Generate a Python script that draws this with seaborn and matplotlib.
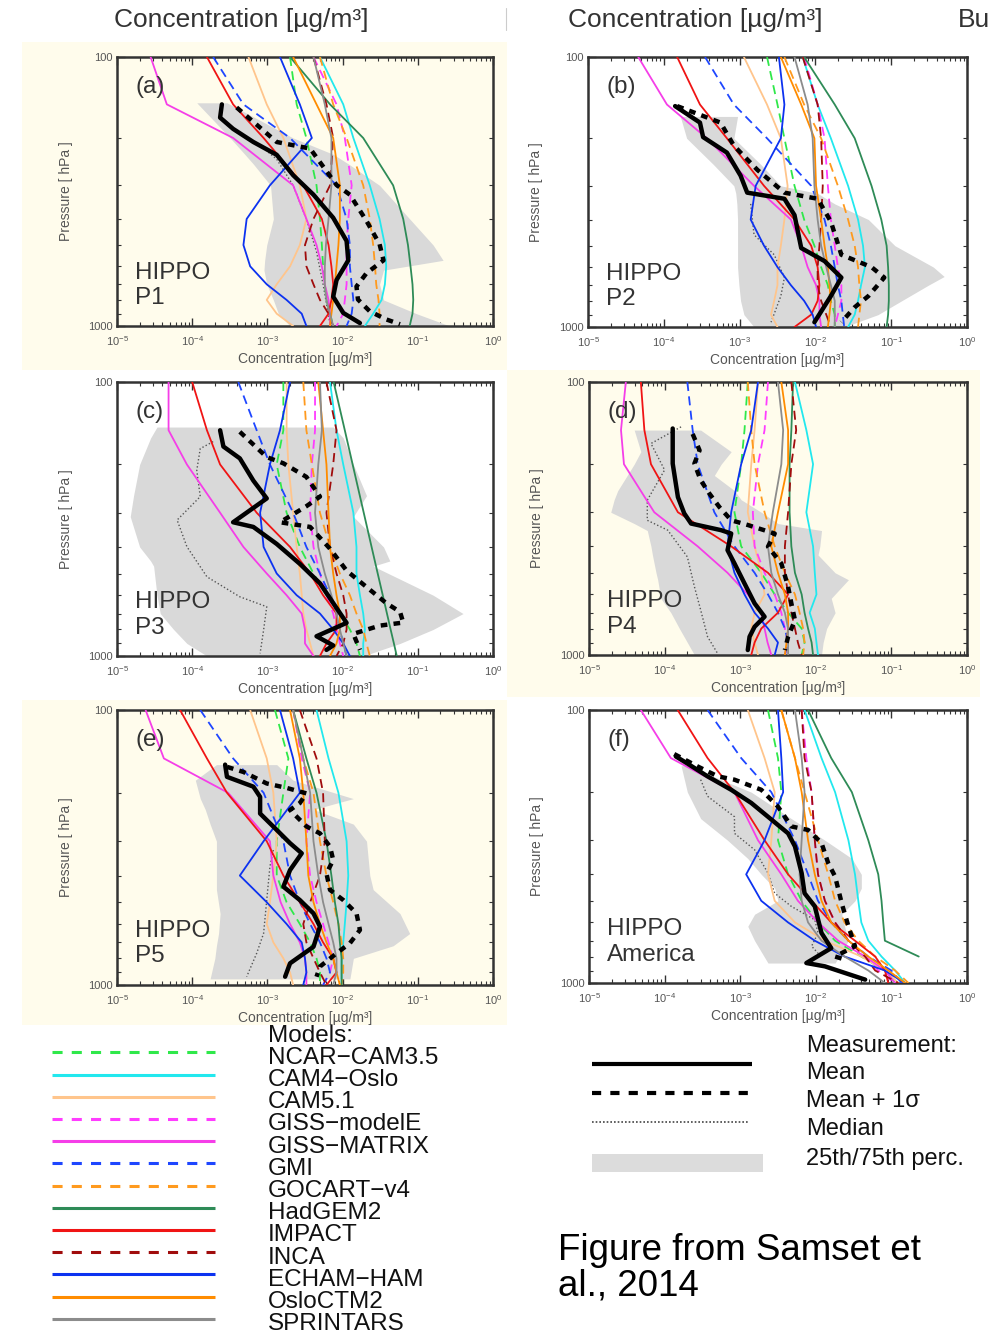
import numpy as np
import matplotlib
matplotlib.use("Agg")
import matplotlib.pyplot as plt
from matplotlib.patches import Rectangle
from matplotlib.ticker import FixedLocator, FixedFormatter, NullFormatter, LogLocator
import seaborn as sns

# ------------------------------------------------------------------ data
P = [100, 150, 200, 300, 400, 500, 600, 700, 800, 900, 1000]   # model pressure levels [hPa]

MODEL_KEYS = ['ncar', 'cam4', 'cam5', 'gisse', 'gissm', 'gmi', 'gocart',
              'hadgem', 'impact', 'inca', 'echam', 'oslo', 'sprint']
MODEL_NAMES = ['NCAR\u2212CAM3.5', 'CAM4\u2212Oslo', 'CAM5.1', 'GISS\u2212modelE',
               'GISS\u2212MATRIX', 'GMI', 'GOCART\u2212v4', 'HadGEM2', 'IMPACT',
               'INCA', 'ECHAM\u2212HAM', 'OsloCTM2', 'SPRINTARS']
MODEL_COLORS = ['#2fe84a', '#22e8ee', '#ffc58c', '#ff3cff', '#f53ee8', '#1e46ff',
                '#ff9a1e', '#2e8b57', '#f01414', '#a00c0c', '#0c32f0', '#ff8c00', '#8c8c8c']
MODEL_DASHED = [True, False, False, True, False, True, True, False, False, True,
                False, False, False]

PANELS = ['a', 'b', 'c', 'd', 'e', 'f']
PANEL_TAGS = ['(a)', '(b)', '(c)', '(d)', '(e)', '(f)']
PANEL_NAMES = ['P1', 'P2', 'P3', 'P4', 'P5', 'America']

# ---- panel (a)
a_ncar = [2.0e-3, 2.45e-3, 3.3e-3, 4.5e-3, 5.0e-3, 5.3e-3, 5.5e-3, 5.8e-3, 6.1e-3, 6.8e-3, 7.5e-3]
a_cam4 = [5.0e-3, 1.02e-2, 1.39e-2, 2.3e-2, 3.1e-2, 3.65e-2, 3.8e-2, 3.65e-2, 3.3e-2, 2.55e-2, 1.98e-2]
a_cam5 = [5.6e-4, 9.8e-4, 1.63e-3, 2.7e-3, 3.3e-3, 2.7e-3, 2.0e-3, 1.33e-3, 9.8e-4, 1.33e-3, 2.2e-3]
a_gisse = [4.1e-3, 8.3e-3, 1.07e-2, 1.32e-2, 1.19e-2, 1.13e-2, 1.13e-2, 1.13e-2, 1.07e-2, 1.02e-2, 8.3e-3]
a_gissm = [2.8e-5, 4.6e-5, 3.5e-4, 2.2e-3, 3.3e-3, 4.5e-3, 5.3e-3, 5.8e-3, 6.5e-3, 6.8e-3, 6.8e-3]
a_gmi = [1.9e-4, 4.8e-4, 2.0e-3, 8.3e-3, 1.13e-2, 1.25e-2, 1.25e-2, 1.32e-2, 1.39e-2, 1.32e-2, 1.13e-2]
a_gocart = [5.0e-3, 7.5e-3, 1.13e-2, 1.88e-2, 2.3e-2, 2.55e-2, 2.7e-2, 2.8e-2, 3.0e-2, 3.1e-2, 3.1e-2]
a_hadgem = [2.0e-3, 6.8e-3, 1.88e-2, 4.7e-2, 6.4e-2, 7.4e-2, 8.0e-2, 8.5e-2, 8.7e-2, 8.5e-2, 7.8e-2]
a_impact = [1.57e-4, 3.5e-4, 8.9e-4, 3.0e-3, 5.3e-3, 6.5e-3, 7.1e-3, 7.5e-3, 7.1e-3, 6.5e-3, 5.0e-3]
a_inca = [4.1e-3, 6.1e-3, 7.5e-3, 6.8e-3, 4.1e-3, 3.16e-3, 3.3e-3, 4.1e-3, 5.0e-3, 6.5e-3, 7.5e-3]
a_echam = [1.47e-3, 2.7e-3, 3.9e-3, 1.08e-3, 5.3e-4, 4.8e-4, 5.9e-4, 9.8e-4, 1.8e-3, 2.86e-3, 3.3e-3]
a_oslo = [2.2e-3, 4.5e-3, 7.5e-3, 9.2e-3, 9.2e-3, 8.8e-3, 8.3e-3, 7.9e-3, 7.5e-3, 7.1e-3, 6.8e-3]
a_sprint = [4.1e-3, 5.8e-3, 7.1e-3, 7.1e-3, 6.5e-3, 6.0e-3, 5.8e-3, 5.8e-3, 6.1e-3, 6.8e-3, 7.5e-3]
a_mean_p = [150, 168, 185, 207, 231, 275, 325, 396, 483, 570, 675, 778, 894, 975]
a_mean = [2.48e-4, 2.35e-4, 3.5e-4, 6.5e-4, 1.33e-3, 2.2e-3, 4.1e-3, 7.5e-3, 1.13e-2, 1.19e-2, 8.3e-3, 7.5e-3, 1.02e-2, 1.7e-2]
a_sd_p = [154, 207, 219, 246, 299, 325, 407, 496, 570, 636, 713, 797, 882, 945, 985]
a_sd = [3.9e-4, 1.33e-3, 3.7e-3, 5.0e-3, 8.3e-3, 1.25e-2, 2.08e-2, 3.1e-2, 3.5e-2, 2.08e-2, 1.53e-2, 1.6e-2, 2.3e-2, 3.8e-2, 5.8e-2]
a_med_p = [213, 240, 300, 400, 530, 700, 980]
a_med = [8.0e-4, 1.33e-3, 2.2e-3, 3.3e-3, 4.5e-3, 5.5e-3, 6.8e-3]
a_band_p = [148, 200, 230, 250, 300, 400, 500, 570, 620, 700, 800, 900, 1000]
a_p25 = [1.15e-4, 3.2e-4, 5.0e-4, 6.5e-4, 1.1e-3, 1.2e-3, 9.8e-4, 9.2e-4, 9.0e-4, 9.8e-4, 1.2e-3, 1.4e-3, 2.0e-3]
a_p75 = [2.9e-4, 2.2e-3, 7.5e-3, 1.2e-2, 3.1e-2, 7.8e-2, 1.6e-1, 2.17e-1, 3.5e-2, 3.1e-2, 3.5e-2, 9.6e-2, 2.66e-1]

# ---- panel (b)
b_ncar = [2.3e-3, 3.16e-3, 3.9e-3, 5.3e-3, 7.1e-3, 9.7e-3, 1.19e-2, 1.46e-2, 1.6e-2, 1.8e-2, 1.8e-2]
b_cam4 = [6.8e-3, 1.07e-2, 1.6e-2, 2.7e-2, 3.65e-2, 4.25e-2, 4.5e-2, 4.0e-2, 3.65e-2, 3.3e-2, 2.7e-2]
b_cam5 = [1.14e-3, 2.3e-3, 3.5e-3, 4.3e-3, 3.9e-3, 3.5e-3, 3.16e-3, 3.16e-3, 2.86e-3, 2.6e-3, 3.16e-3]
b_gisse = [7.1e-3, 1.07e-2, 1.32e-2, 1.46e-2, 1.6e-2, 1.8e-2, 1.98e-2, 2.2e-2, 2.2e-2, 1.98e-2, 1.8e-2]
b_gissm = [4.6e-5, 1.1e-4, 3.7e-4, 1.55e-3, 4.75e-3, 6.5e-3, 7.9e-3, 1.02e-2, 1.13e-2, 1.13e-2, 1.19e-2]
b_gmi = [3.5e-4, 8.4e-4, 2.3e-3, 8.8e-3, 1.32e-2, 1.6e-2, 1.8e-2, 1.98e-2, 2.2e-2, 2.3e-2, 2.4e-2]
b_gocart = [3.9e-3, 7.1e-3, 1.19e-2, 1.98e-2, 2.7e-2, 3.3e-2, 3.65e-2, 3.8e-2, 4.0e-2, 3.8e-2, 3.65e-2]
b_hadgem = [7.1e-3, 1.8e-2, 3.3e-2, 5.5e-2, 7.4e-2, 8.7e-2, 9.1e-2, 9.3e-2, 9.3e-2, 9.1e-2, 8.7e-2]
b_impact = [1.5e-4, 3.0e-4, 6.8e-4, 2.1e-3, 5.3e-3, 8.8e-3, 1.07e-2, 1.13e-2, 1.07e-2, 8.8e-3, 5.3e-3]
b_inca = [6.8e-3, 1.07e-2, 1.19e-2, 1.25e-2, 1.19e-2, 1.13e-2, 1.07e-2, 1.07e-2, 1.19e-2, 1.39e-2, 1.6e-2]
b_echam = [3.3e-3, 3.9e-3, 3.5e-3, 1.63e-3, 1.4e-3, 2.1e-3, 3.16e-3, 4.75e-3, 7.1e-3, 9.2e-3, 1.02e-2]
b_oslo = [3.5e-3, 6.5e-3, 9.7e-3, 1.02e-2, 1.19e-2, 1.32e-2, 1.46e-2, 1.53e-2, 1.6e-2, 1.53e-2, 1.46e-2]
b_sprint = [5.3e-3, 7.9e-3, 9.2e-3, 9.7e-3, 1.07e-2, 1.19e-2, 1.39e-2, 1.6e-2, 1.8e-2, 1.8e-2, 1.8e-2]
b_mean_p = [152, 175, 198, 226, 275, 318, 335, 385, 510, 570, 656, 768, 960]
b_mean = [1.41e-4, 3.0e-4, 3.3e-4, 6.8e-4, 1.03e-3, 1.26e-3, 3.9e-3, 5.3e-3, 6.5e-3, 1.32e-2, 2.2e-2, 1.6e-2, 9.7e-3]
b_sd_p = [152, 175, 213, 262, 318, 335, 407, 540, 600, 656, 768, 845, 960]
b_sd = [1.5e-4, 5.6e-4, 8.4e-4, 1.72e-3, 3.9e-3, 1.07e-2, 1.6e-2, 2.2e-2, 5.5e-2, 8.1e-2, 5.0e-2, 3.3e-2, 2.2e-2]
b_med_p = [350, 455, 540, 656, 768, 960]
b_med = [1.4e-3, 1.55e-3, 2.86e-3, 3.9e-3, 3.5e-3, 2.6e-3]
b_band_p = [166, 200, 250, 300, 320, 350, 400, 500, 600, 650, 700, 800, 900, 1000]
b_p25 = [1.65e-4, 2.0e-4, 4.5e-4, 8.4e-4, 8.9e-4, 9.2e-4, 9.4e-4, 9.4e-4, 9.4e-4, 9.6e-4, 9.8e-4, 1.03e-3, 1.14e-3, 1.55e-3]
b_p75 = [9.4e-4, 8.4e-4, 1.9e-3, 3.5e-3, 1.07e-2, 1.8e-2, 5.0e-2, 1.12e-1, 3.6e-1, 5.0e-1, 3.1e-1, 1.37e-1, 6.7e-2, 2.4e-2]

# ---- panel (c)
c_ncar = [1.63e-3, 1.63e-3, 1.33e-3, 1.8e-3, 2.7e-3, 4.1e-3, 6.1e-3, 9.2e-3, 1.25e-2, 1.53e-2, 1.7e-2]
c_cam4 = [6.8e-3, 8.3e-3, 1.02e-2, 1.39e-2, 1.53e-2, 1.53e-2, 1.7e-2, 1.88e-2, 1.98e-2, 1.88e-2, 1.88e-2]
c_cam5 = [1.8e-3, 1.8e-3, 1.9e-3, 2.2e-3, 2.45e-3, 2.7e-3, 2.86e-3, 3.0e-3, 3.3e-3, 3.7e-3, 4.1e-3]
c_gisse = [4.3e-3, 4.3e-3, 3.9e-3, 3.7e-3, 4.1e-3, 5.0e-3, 6.1e-3, 7.5e-3, 8.3e-3, 9.2e-3, 1.02e-2]
c_gissm = [4.85e-5, 4.85e-5, 8.5e-5, 2.35e-4, 4.8e-4, 9.8e-4, 1.8e-3, 2.86e-3, 3.16e-3, 3.16e-3, 4.1e-3]
c_gmi = [4.1e-4, 7.2e-4, 1.08e-3, 2.2e-3, 3.3e-3, 5.0e-3, 6.8e-3, 8.3e-3, 9.2e-3, 1.02e-2, 1.13e-2]
c_gocart = [3.0e-3, 3.3e-3, 3.9e-3, 5.0e-3, 6.8e-3, 9.2e-3, 1.25e-2, 1.53e-2, 1.88e-2, 2.08e-2, 2.3e-2]
c_hadgem = [7.6e-3, 1.07e-2, 1.36e-2, 1.91e-2, 2.43e-2, 2.93e-2, 3.42e-2, 3.89e-2, 4.35e-2, 4.81e-2, 5.25e-2]
c_impact = [1.0e-4, 1.57e-4, 2.35e-4, 7.2e-4, 2.0e-3, 3.7e-3, 5.5e-3, 8.3e-3, 8.3e-3, 6.1e-3, 5.0e-3]
c_inca = [6.1e-3, 8.3e-3, 7.5e-3, 6.1e-3, 6.8e-3, 8.3e-3, 1.02e-2, 1.13e-2, 1.13e-2, 1.02e-2, 8.3e-3]
c_echam = [2.0e-3, 1.47e-3, 1.08e-3, 8.0e-4, 8.9e-4, 1.33e-3, 2.45e-3, 5.0e-3, 7.5e-3, 1.02e-2, 1.25e-2]
c_oslo = [4.75e-3, 5.5e-3, 6.1e-3, 6.5e-3, 6.8e-3, 7.5e-3, 8.3e-3, 9.2e-3, 9.2e-3, 8.3e-3, 6.8e-3]
c_sprint = [5.0e-3, 5.3e-3, 4.75e-3, 4.3e-3, 4.75e-3, 5.8e-3, 7.1e-3, 8.3e-3, 9.2e-3, 1.02e-2, 1.13e-2]
c_mean_p = [150, 172, 190, 229, 266, 325, 338, 390, 461, 543, 641, 757, 847, 915, 950]
c_mean = [2.35e-4, 2.6e-4, 4.3e-4, 6.5e-4, 9.8e-4, 3.5e-4, 6.5e-4, 1.33e-3, 2.7e-3, 5.0e-3, 7.5e-3, 1.13e-2, 4.5e-3, 7.5e-3, 6.1e-3]
c_sd_p = [152, 188, 198, 222, 262, 284, 325, 338, 406, 488, 560, 641, 690, 755, 775, 830, 950]
c_sd = [4.3e-4, 9.8e-4, 1.63e-3, 3.3e-3, 5.0e-3, 3.3e-3, 1.47e-3, 3.7e-3, 6.8e-3, 1.13e-2, 2.08e-2, 3.8e-2, 5.8e-2, 6.4e-2, 3.1e-2, 1.39e-2, 1.7e-2]
c_med_p = [165, 175, 210, 262, 319, 399, 514, 608, 661, 804, 978]
c_med = [1.9e-4, 1.28e-4, 1.15e-4, 1.28e-4, 6.3e-5, 8.5e-5, 1.57e-4, 4.3e-4, 9.8e-4, 8.9e-4, 8.0e-4]
c_band_p = [146, 160, 200, 260, 310, 400, 450, 470, 600, 700, 800, 900, 1000]
c_p25 = [3.4e-5, 2.8e-5, 2.0e-5, 1.66e-5, 1.5e-5, 2.0e-5, 2.8e-5, 3.07e-5, 3.4e-5, 3.76e-5, 5.65e-5, 8.5e-5, 1.57e-4]
c_p75 = [7.5e-3, 1.02e-2, 1.39e-2, 2.08e-2, 1.39e-2, 3.5e-2, 4.25e-2, 2.55e-2, 1.6e-1, 4.0e-1, 1.6e-1, 5.8e-2, 1.88e-2]

# ---- panel (d)
d_ncar = [1.26e-3, 1.14e-3, 1.03e-3, 8.4e-4, 1.03e-3, 1.9e-3, 2.86e-3, 4.3e-3, 6.5e-3, 7.1e-3, 6.5e-3]
d_cam4 = [5.3e-3, 7.5e-3, 9.2e-3, 7.5e-3, 9.2e-3, 9.7e-3, 1.02e-2, 8.3e-3, 9.7e-3, 1.02e-2, 1.07e-2]
d_cam5 = [1.72e-3, 1.55e-3, 1.4e-3, 1.26e-3, 1.55e-3, 1.9e-3, 2.1e-3, 1.55e-3, 1.4e-3, 1.55e-3, 1.72e-3]
d_gisse = [2.33e-3, 2.1e-3, 1.72e-3, 1.47e-3, 1.55e-3, 2.1e-3, 2.86e-3, 3.5e-3, 3.9e-3, 4.3e-3, 3.9e-3]
d_gissm = [3.07e-5, 2.65e-5, 2.9e-5, 7.3e-5, 2.74e-4, 6.8e-4, 1.26e-3, 1.9e-3, 2.1e-3, 2.3e-3, 2.58e-3]
d_gmi = [2.0e-4, 2.35e-4, 2.74e-4, 4.55e-4, 8.4e-4, 1.55e-3, 2.33e-3, 3.16e-3, 3.9e-3, 4.3e-3, 3.9e-3]
d_gocart = [1.26e-3, 1.4e-3, 1.55e-3, 2.1e-3, 2.86e-3, 3.9e-3, 5.3e-3, 6.1e-3, 6.8e-3, 7.1e-3, 6.8e-3]
d_hadgem = [5.0e-3, 4.75e-3, 4.5e-3, 4.5e-3, 4.75e-3, 5.3e-3, 6.5e-3, 7.1e-3, 7.9e-3, 8.8e-3, 9.2e-3]
d_impact = [4.85e-5, 5.4e-5, 6.6e-5, 1.5e-4, 7.6e-4, 2.33e-3, 4.3e-3, 3.16e-3, 1.9e-3, 1.55e-3, 1.4e-3]
d_inca = [4.75e-3, 5.5e-3, 4.75e-3, 4.3e-3, 3.9e-3, 3.9e-3, 4.3e-3, 4.75e-3, 5.3e-3, 5.8e-3, 6.5e-3]
d_echam = [1.72e-3, 1.4e-3, 1.03e-3, 7.6e-4, 6.8e-4, 8.4e-4, 1.14e-3, 1.55e-3, 2.33e-3, 3.16e-3, 2.86e-3]
d_oslo = [3.5e-3, 4.3e-3, 4.3e-3, 3.16e-3, 2.58e-3, 3.16e-3, 3.9e-3, 4.3e-3, 4.3e-3, 4.1e-3, 3.9e-3]
d_sprint = [3.16e-3, 3.7e-3, 3.5e-3, 2.7e-3, 2.33e-3, 2.58e-3, 3.16e-3, 3.9e-3, 4.3e-3, 4.3e-3, 4.3e-3]
d_mean_p = [148, 199, 264, 303, 330, 349, 359, 413, 462, 547, 647, 724, 788, 857, 959]
d_mean = [1.28e-4, 1.28e-4, 1.5e-4, 1.82e-4, 2.24e-4, 5.6e-4, 7.6e-4, 6.8e-4, 8.4e-4, 1.14e-3, 1.55e-3, 2.1e-3, 1.55e-3, 1.33e-3, 1.26e-3]
d_sd_p = [155, 178, 199, 229, 256, 287, 321, 334, 359, 401, 462, 562, 647, 745, 857, 959]
d_sd = [2.35e-4, 2.9e-4, 2.48e-4, 3.0e-4, 3.9e-4, 5.3e-4, 7.6e-4, 1.26e-3, 2.86e-3, 2.33e-3, 3.5e-3, 4.3e-3, 4.75e-3, 5.3e-3, 4.3e-3, 3.9e-3]
d_med_p = [146, 168, 210, 271, 321, 349, 437, 562, 684, 857, 985]
d_med = [1.65e-4, 6.6e-5, 1.0e-4, 5.9e-5, 5.9e-5, 1.1e-4, 2.0e-4, 2.48e-4, 3.0e-4, 3.7e-4, 5.0e-4]
d_band_p = [150, 180, 200, 220, 250, 270, 300, 330, 350, 400, 430, 500, 530, 620, 700, 800, 900, 1000]
d_p25 = [3.96e-5, 4.85e-5, 3.96e-5, 3.2e-5, 2.4e-5, 2.15e-5, 1.94e-5, 3.96e-5, 5.9e-5, 6.6e-5, 6.9e-5, 7.7e-5, 8.1e-5, 8.9e-5, 1.21e-4, 1.57e-4, 2.0e-4, 2.48e-4]
d_p75 = [3.0e-4, 7.6e-4, 5.6e-4, 4.55e-4, 8.4e-4, 1.03e-3, 1.9e-3, 3.16e-3, 1.19e-2, 1.13e-2, 1.07e-2, 1.8e-2, 2.7e-2, 1.6e-2, 1.8e-2, 1.39e-2, 1.25e-2, 1.19e-2]

# ---- panel (e)
e_ncar = [1.26e-3, 1.9e-3, 1.63e-3, 1.33e-3, 1.33e-3, 1.8e-3, 2.7e-3, 3.7e-3, 4.5e-3, 5.0e-3, 5.0e-3]
e_cam4 = [4.5e-3, 6.5e-3, 8.8e-3, 1.13e-2, 1.19e-2, 1.13e-2, 1.07e-2, 1.02e-2, 9.7e-3, 9.7e-3, 9.7e-3]
e_cam5 = [5.9e-4, 9.8e-4, 1.2e-3, 1.33e-3, 1.2e-3, 1.08e-3, 9.8e-4, 1.2e-3, 1.63e-3, 2.0e-3, 2.2e-3]
e_gisse = [2.2e-3, 2.86e-3, 3.7e-3, 3.3e-3, 3.7e-3, 4.5e-3, 5.5e-3, 6.5e-3, 7.5e-3, 6.8e-3, 5.5e-3]
e_gissm = [2.4e-5, 4.2e-5, 3.0e-4, 1.08e-3, 1.2e-3, 1.5e-3, 2.0e-3, 2.7e-3, 3.16e-3, 3.3e-3, 3.3e-3]
e_gmi = [1.28e-4, 3.5e-4, 8.9e-4, 1.63e-3, 2.0e-3, 2.7e-3, 3.7e-3, 5.0e-3, 6.1e-3, 6.8e-3, 5.5e-3]
e_gocart = [2.2e-3, 3.0e-3, 4.1e-3, 5.0e-3, 6.1e-3, 7.5e-3, 8.8e-3, 9.7e-3, 1.02e-2, 1.02e-2, 9.7e-3]
e_hadgem = [2.2e-3, 3.3e-3, 4.5e-3, 6.1e-3, 7.1e-3, 7.9e-3, 8.8e-3, 9.2e-3, 9.7e-3, 9.7e-3, 9.7e-3]
e_impact = [6.9e-5, 1.57e-4, 2.9e-4, 9.8e-4, 1.63e-3, 2.7e-3, 4.1e-3, 5.5e-3, 7.5e-3, 8.3e-3, 6.1e-3]
e_inca = [2.7e-3, 4.5e-3, 5.5e-3, 5.8e-3, 5.0e-3, 3.7e-3, 3.0e-3, 3.3e-3, 4.1e-3, 5.0e-3, 6.1e-3]
e_echam = [1.47e-3, 2.2e-3, 2.7e-3, 8.9e-4, 4.3e-4, 9.8e-4, 1.8e-3, 2.86e-3, 3.16e-3, 3.3e-3, 3.0e-3]
e_oslo = [2.0e-3, 2.7e-3, 3.0e-3, 3.3e-3, 3.5e-3, 4.1e-3, 5.0e-3, 6.1e-3, 7.5e-3, 8.3e-3, 9.2e-3]
e_sprint = [2.2e-3, 3.0e-3, 3.7e-3, 4.1e-3, 4.75e-3, 5.5e-3, 6.5e-3, 7.5e-3, 8.3e-3, 8.3e-3, 7.5e-3]
e_mean_p = [158, 175, 190, 207, 238, 273, 305, 332, 382, 439, 491, 549, 613, 726, 834, 933]
e_mean = [2.74e-4, 2.9e-4, 6.5e-4, 8.0e-4, 8.0e-4, 1.33e-3, 2.0e-3, 2.86e-3, 2.0e-3, 1.63e-3, 2.7e-3, 4.1e-3, 5.0e-3, 4.1e-3, 2.0e-3, 1.72e-3]
e_sd_p = [161, 168, 185, 192, 201, 218, 231, 265, 281, 314, 351, 393, 451, 491, 549, 631, 705, 767, 857, 933]
e_sd = [2.9e-4, 4.8e-4, 9.8e-4, 1.8e-3, 3.3e-3, 2.7e-3, 2.0e-3, 3.3e-3, 5.0e-3, 6.8e-3, 7.5e-3, 6.1e-3, 6.8e-3, 1.02e-2, 1.53e-2, 1.7e-2, 1.25e-2, 8.3e-3, 5.0e-3, 4.5e-3]
e_med_p = [323, 371, 491, 649, 767, 933]
e_med = [1.2e-3, 1.08e-3, 9.8e-4, 8.9e-4, 7.2e-4, 5.3e-4]
e_band_p = [158, 180, 210, 230, 260, 300, 400, 450, 550, 650, 720, 800, 950]
e_p25 = [2.1e-4, 1.1e-4, 1.28e-4, 1.49e-4, 1.73e-4, 2.1e-4, 2.1e-4, 2.1e-4, 2.35e-4, 2.24e-4, 2.1e-4, 2.0e-4, 1.73e-4]
e_p75 = [1.33e-3, 2.2e-3, 1.39e-2, 4.1e-3, 1.39e-2, 2.08e-2, 2.3e-2, 2.55e-2, 5.8e-2, 7.8e-2, 4.7e-2, 1.39e-2, 1.25e-2]

# ---- panel (f)
f_ncar = [2.33e-3, 3.16e-3, 3.5e-3, 3.16e-3, 4.3e-3, 6.5e-3, 1.07e-2, 1.8e-2, 4.0e-2, 8.2e-2, 1.12e-1]
f_cam4 = [7.1e-3, 1.19e-2, 1.8e-2, 2.7e-2, 3.3e-2, 3.65e-2, 4.0e-2, 4.95e-2, 7.4e-2, 1.12e-1, 1.52e-1]
f_cam5 = [1.26e-3, 2.1e-3, 2.86e-3, 2.58e-3, 2.33e-3, 2.86e-3, 5.3e-3, 1.32e-2, 4.0e-2, 8.2e-2, 1.24e-1]
f_gisse = [6.5e-3, 7.5e-3, 8.8e-3, 9.7e-3, 1.07e-2, 1.32e-2, 1.8e-2, 2.7e-2, 4.5e-2, 6.7e-2, 1.12e-1]
f_gissm = [4.85e-5, 1.21e-4, 8.4e-4, 1.72e-3, 3.5e-3, 5.8e-3, 1.07e-2, 1.98e-2, 4.5e-2, 8.2e-2, 1.12e-1]
f_gmi = [3.7e-4, 1.03e-3, 2.58e-3, 5.3e-3, 7.9e-3, 1.07e-2, 1.6e-2, 2.7e-2, 4.95e-2, 1.0e-1, 1.37e-1]
f_gocart = [3.5e-3, 5.3e-3, 7.1e-3, 1.07e-2, 1.46e-2, 1.8e-2, 2.4e-2, 3.65e-2, 6.1e-2, 1.12e-1, 1.68e-1]
f_hadgem = [7.9e-3, 1.6e-2, 3.0e-2, 4.95e-2, 6.7e-2, 7.4e-2, 7.8e-2, 8.2e-2, 2.3e-1, np.nan, np.nan]
f_impact = [1.49e-4, 3.7e-4, 8.4e-4, 2.1e-3, 4.3e-3, 8.8e-3, 1.6e-2, 3.3e-2, 6.1e-2, 8.2e-2, 9.1e-2]
f_inca = [6.5e-3, 7.1e-3, 8.8e-3, 9.7e-3, 1.07e-2, 1.32e-2, 1.8e-2, 2.7e-2, 4.5e-2, 6.1e-2, 1.24e-1]
f_echam = [3.16e-3, 3.5e-3, 3.7e-3, 2.1e-3, 1.2e-3, 1.9e-3, 4.3e-3, 9.7e-3, 2.4e-2, 8.2e-2, 1.5e-1]
f_oslo = [3.5e-3, 5.3e-3, 6.5e-3, 7.9e-3, 9.7e-3, 1.19e-2, 1.6e-2, 2.7e-2, 4.95e-2, 9.1e-2, 1.52e-1]
f_sprint = [5.3e-3, 6.5e-3, 7.1e-3, 6.5e-3, 6.1e-3, 6.5e-3, 7.9e-3, 1.19e-2, 2.4e-2, 4.95e-2, 8.2e-2]
f_mean_p = [148, 157, 175, 196, 219, 246, 283, 316, 396, 469, 524, 656, 745, 845, 869, 972]
f_mean = [1.41e-4, 2.0e-4, 3.7e-4, 7.6e-4, 1.4e-3, 2.33e-3, 4.3e-3, 5.3e-3, 6.5e-3, 7.1e-3, 9.7e-3, 1.19e-2, 1.6e-2, 7.5e-3, 1.32e-2, 4.5e-2]
f_sd_p = [145, 161, 175, 180, 196, 226, 267, 275, 307, 364, 407, 510, 620, 733, 800, 820]
f_sd = [1.34e-4, 2.74e-4, 5.05e-4, 8.4e-4, 1.9e-3, 3.16e-3, 4.75e-3, 7.9e-3, 1.19e-2, 1.46e-2, 1.8e-2, 2.2e-2, 2.7e-2, 3.3e-2, 1.8e-2, 2.4e-2]
f_med_p = [180, 207, 246, 283, 325, 396, 469, 524, 587, 656, 733, 778]
f_med = [3.0e-4, 3.7e-4, 8.4e-4, 8.4e-4, 1.55e-3, 2.33e-3, 2.86e-3, 4.75e-3, 9.7e-3, 1.07e-2, 8.8e-3, 1.07e-2]
f_band_p = [160, 200, 250, 300, 350, 400, 450, 500, 560, 620, 700, 845]
f_p25 = [1.65e-4, 2.0e-4, 3.0e-4, 6.8e-4, 1.26e-3, 1.9e-3, 2.86e-3, 3.16e-3, 1.55e-3, 1.26e-3, 1.55e-3, 2.33e-3]
f_p75 = [2.0e-4, 1.4e-3, 4.75e-3, 1.32e-2, 3.0e-2, 4.0e-2, 4.0e-2, 3.3e-2, 2.2e-2, 2.4e-2, 2.7e-2, 1.8e-2]

X_TICKS = [1e-5, 1e-4, 1e-3, 1e-2, 1e-1, 1e0]
X_TICKLABELS = ['10$^{-5}$', '10$^{-4}$', '10$^{-3}$', '10$^{-2}$', '10$^{-1}$', '10$^{0}$']
Y_TICKS = [100, 1000]
Y_TICKLABELS = ['100', '1000']
Y_MINOR = [200, 300, 400, 500, 600, 700, 800, 900]

MEAS_LABELS = ['Mean', 'Mean + 1\u03c3', 'Median', '25th/75th perc.']

# ------------------------------------------------------------------ style
sns.set_theme(style="ticks")
plt.rcParams['font.family'] = ['Liberation Sans', 'DejaVu Sans']
plt.rcParams['mathtext.default'] = 'regular'

W, H = 989, 1334
fig = plt.figure(figsize=(W / 100, H / 100), dpi=100)
fig.patch.set_facecolor('white')

CREAM = '#fffcec'
TXT = '#333333'
BAND = '#d9d9d9'
LEG_FS = 17.5

# overlay axis (pixel coordinates) for background panels and legend
lax = fig.add_axes([0, 0, 1, 1])
lax.set_zorder(-10)
lax.set_xlim(0, W)
lax.set_ylim(H, 0)
lax.axis('off')

# cream backgrounds behind panels a, d, e  (x0, y0, x1, y1 in px)
for (x0, y0, x1, y1) in [(22, 42, 507, 370), (507, 370, 980, 697), (22, 700, 507, 1025)]:
    lax.add_patch(Rectangle((x0, y0), x1 - x0, y1 - y0, facecolor=CREAM, edgecolor='none'))

# axes rectangles in px: left, top, right, bottom
AX_BOX = {'a': (117, 57, 493, 326), 'b': (588, 57, 967, 327),
          'c': (117, 382, 493, 656), 'd': (589, 382, 967, 655),
          'e': (117, 710, 493, 985), 'f': (589, 710, 967, 983)}
CREAM_PANELS = {'a', 'd', 'e'}

G = globals()


def arr(name):
    return np.asarray(G[name], dtype=float)


for k, tag, pname in zip(PANELS, PANEL_TAGS, PANEL_NAMES):
    l, t, r, b = AX_BOX[k]
    ax = fig.add_axes([l / W, 1 - b / H, (r - l) / W, (b - t) / H])
    ax.set_facecolor(CREAM if k in CREAM_PANELS else 'white')
    ax.set_xscale('log')
    ax.set_yscale('log')

    # 25th/75th percentile band
    ax.fill_betweenx(arr(f'{k}_band_p'), arr(f'{k}_p25'), arr(f'{k}_p75'),
                     color=BAND, lw=0, zorder=1)
    # median
    sns.lineplot(x=arr(f'{k}_med'), y=arr(f'{k}_med_p'), ax=ax, sort=False,
                 estimator=None, color='#555555', lw=1.0,
                 linestyle=(0, (1, 1.6)), zorder=2)
    # models
    for mk, col, dsh in zip(MODEL_KEYS, MODEL_COLORS, MODEL_DASHED):
        sns.lineplot(x=arr(f'{k}_{mk}'), y=np.asarray(P, dtype=float), ax=ax,
                     sort=False, estimator=None, color=col, lw=1.3,
                     linestyle=(0, (5, 3)) if dsh else '-', zorder=3)
    # measurement mean and mean + 1 sigma
    sns.lineplot(x=arr(f'{k}_sd'), y=arr(f'{k}_sd_p'), ax=ax, sort=False,
                 estimator=None, color='black', lw=3.2,
                 linestyle=(0, (1.5, 1.4)), zorder=5)
    sns.lineplot(x=arr(f'{k}_mean'), y=arr(f'{k}_mean_p'), ax=ax, sort=False,
                 estimator=None, color='black', lw=3.2, zorder=6)

    ax.set_xlim(1e-5, 1)
    ax.set_ylim(1000, 100)
    ax.xaxis.set_major_locator(FixedLocator(X_TICKS))
    ax.xaxis.set_major_formatter(FixedFormatter(X_TICKLABELS))
    ax.xaxis.set_minor_locator(LogLocator(base=10, subs=np.arange(2, 10), numticks=30))
    ax.xaxis.set_minor_formatter(NullFormatter())
    ax.yaxis.set_major_locator(FixedLocator(Y_TICKS))
    ax.yaxis.set_major_formatter(FixedFormatter(Y_TICKLABELS))
    ax.yaxis.set_minor_locator(FixedLocator(Y_MINOR))
    ax.yaxis.set_minor_formatter(NullFormatter())
    ax.tick_params(which='both', direction='in', top=True, right=True,
                   color='#333333', labelcolor='#555555', labelsize=8)
    ax.tick_params(which='major', length=6, width=1.0)
    ax.tick_params(which='minor', length=3, width=0.8)
    ax.tick_params(axis='x', pad=6)
    ax.tick_params(axis='y', pad=3)
    for sp in ax.spines.values():
        sp.set_visible(True)
        sp.set_linewidth(1.8)
        sp.set_color('#333333')

    ax.set_xlabel('Concentration [\u00b5g/m\u00b3]', fontsize=10, color='#555555')
    ax.set_ylabel('Pressure [ hPa ]', fontsize=10, color='#555555')
    ax.xaxis.set_label_coords(0.5, -0.095)
    ax.yaxis.set_label_coords(-0.118, 0.5)

    ax.text(0.048, 0.89, tag, transform=ax.transAxes, fontsize=17.5,
            color=TXT, ha='left', va='center')
    ax.text(0.048, 0.175, 'HIPPO', transform=ax.transAxes, fontsize=17.5,
            color=TXT, ha='left', va='baseline')
    ax.text(0.048, 0.082, pname, transform=ax.transAxes, fontsize=17.5,
            color=TXT, ha='left', va='baseline')

# ------------------------------------------------------------------ titles
fig.text(241 / W, 1 - 20 / H, 'Concentration [\u00b5g/m\u00b3]', ha='center',
         va='center', fontsize=19, color=TXT)
fig.text(695 / W, 1 - 20 / H, 'Concentration [\u00b5g/m\u00b3]', ha='center',
         va='center', fontsize=19, color=TXT)
fig.text(958 / W, 1 - 20 / H, 'Bu', ha='left', va='center', fontsize=19, color=TXT)
lax.plot([506, 506], [8, 30], color='#cccccc', lw=0.8)

# ------------------------------------------------------------------ legends
row0, pitch = 1052.3, 22.2
lax.text(268, row0 - pitch + 12, 'Models:', fontsize=LEG_FS, color='#111111', va='baseline')
for i, (name, col, dsh) in enumerate(zip(MODEL_NAMES, MODEL_COLORS, MODEL_DASHED)):
    y = row0 + i * pitch
    lax.plot([52, 215], [y, y], color=col, lw=2.2, solid_capstyle='butt',
             dash_capstyle='butt', linestyle=(0, (3.3, 3.0)) if dsh else '-')
    lax.text(268, y + 11.5, name, fontsize=LEG_FS, color='#111111', va='baseline')

lax.text(806, 1052, 'Measurement:', fontsize=17, color='#111111', va='baseline')
lax.plot([592, 752], [1064.3, 1064.3], color='black', lw=3.0, solid_capstyle='butt')
lax.plot([592, 752], [1093.3, 1093.3], color='black', lw=3.0,
         linestyle=(0, (2.2, 2.2)), dash_capstyle='butt')
lax.plot([592, 748], [1121.7, 1121.7], color='#444444', lw=1.2, linestyle=(0, (1, 1.2)))
lax.add_patch(Rectangle((592, 1154), 171, 18, facecolor='#dcdcdc', edgecolor='none'))
for lab, yb in zip(MEAS_LABELS, [1079, 1107, 1135, 1165]):
    lax.text(806, yb, lab, fontsize=17, color='#111111', va='baseline')

lax.text(558, 1260, 'Figure from Samset et', fontsize=26.5, color='black', va='baseline')
lax.text(558, 1296, 'al., 2014', fontsize=26.5, color='black', va='baseline')

fig.savefig('out.png', dpi=100, facecolor='white')
